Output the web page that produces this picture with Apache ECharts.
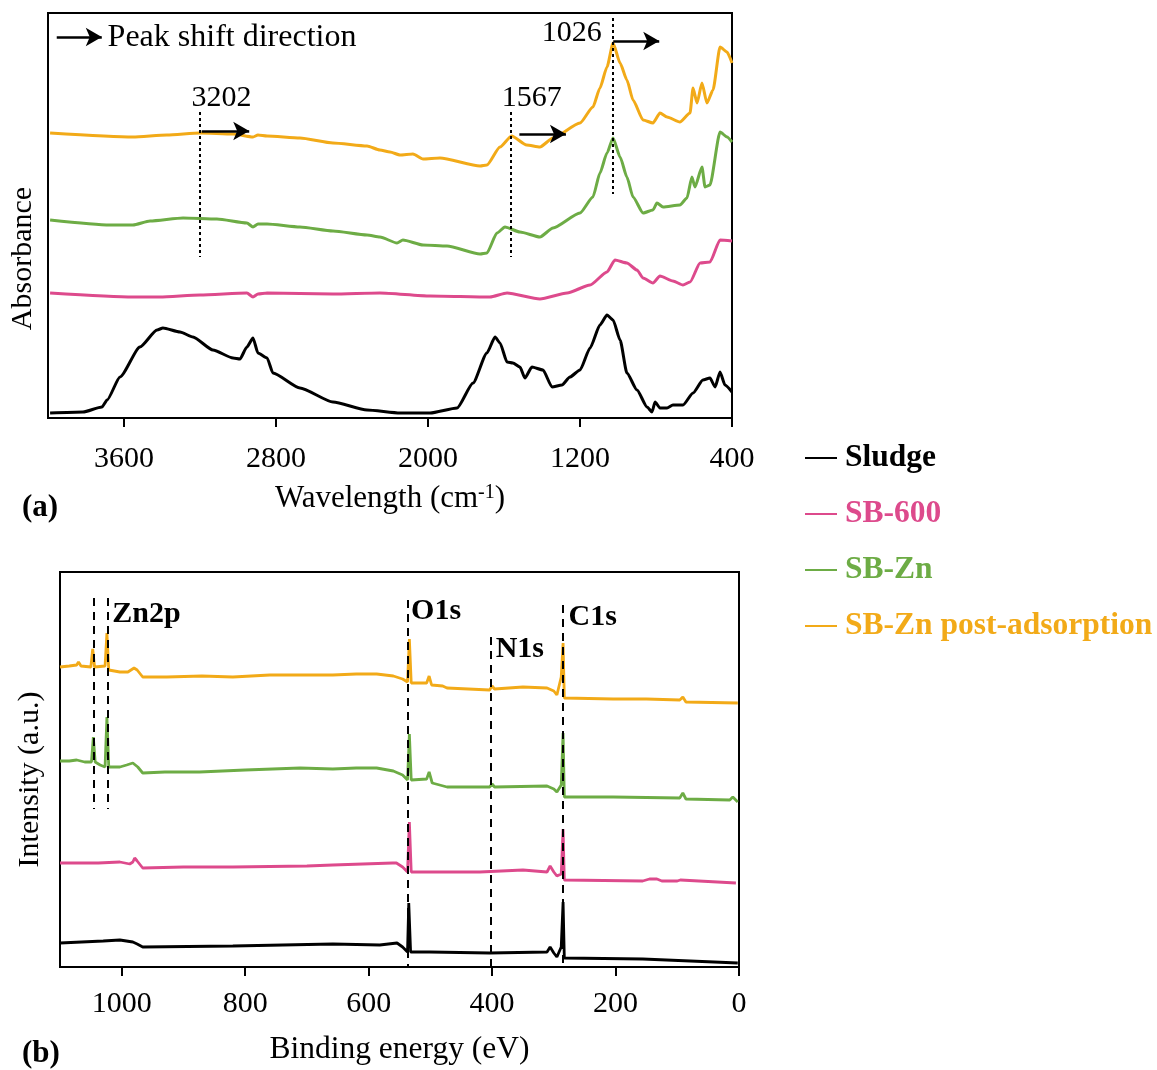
<!DOCTYPE html>
<html>
<head>
<meta charset="utf-8">
<script src="https://cdn.jsdelivr.net/npm/echarts@6/dist/echarts.min.js"></script>
<style>
html,body{margin:0;padding:0;background:#fff;}
#chart{width:1157px;height:1070px;}
</style>
</head>
<body>
<div id="chart"></div>
<script>
// ---------- DATA ----------
const seriesNames = ['Sludge', 'SB-600', 'SB-Zn', 'SB-Zn post-adsorption'];

// FTIR (panel a): [wavenumber cm-1, absorbance (a.u., offset stacked)]
const ftirSludge = [[3989,5],[3816,6],[3716,11],[3689,18],[3621,41],[3516,71],[3426,88],[3395,90],[3305,86],[3237,81],[3132,68],[3026,60],[2990,59],[2953,71],[2921,80],[2895,65],[2847,60],[2816,45],[2674,30],[2500,16],[2321,8],[2147,5],[1989,5],[1847,10],[1763,35],[1690,65],[1647,81],[1621,75],[1584,56],[1553,55],[1516,51],[1490,40],[1453,51],[1395,48],[1347,31],[1295,33],[1253,41],[1200,48],[1147,70],[1095,93],[1058,103],[1026,98],[989,78],[953,45],[900,28],[847,11],[821,6],[805,16],[779,10],[742,10],[711,13],[658,13],[605,25],[553,38],[516,40],[489,31],[463,46],[437,33],[400,26]];
const ftirSB600 = [[3989,125],[3553,121],[3411,121],[3200,123],[2953,125],[2921,121],[2895,124],[2847,125],[2500,124],[2253,125],[1989,122],[1674,121],[1584,125],[1411,119],[1268,125],[1147,133],[1058,146],[1016,158],[953,155],[900,148],[868,140],[816,135],[779,142],[711,137],[658,133],[621,136],[568,155],[516,156],[463,178],[400,177]];
const ftirSBZn = [[3989,198],[3674,193],[3553,193],[3463,197],[3289,200],[3111,199],[2953,195],[2921,191],[2895,194],[2847,194],[2674,191],[2500,187],[2321,183],[2253,181],[2163,175],[2132,178],[2026,173],[1900,172],[1726,164],[1690,165],[1637,185],[1595,191],[1516,186],[1411,181],[1342,190],[1200,205],[1132,221],[1095,245],[1058,265],[1026,280],[989,261],[953,241],[921,221],[868,205],[816,208],[795,215],[763,211],[674,213],[637,220],[611,241],[595,231],[558,251],[542,231],[516,233],[463,286],[426,281],[400,276]];
const ftirSBZnPost = [[3989,285],[3553,281],[3374,283],[3200,285],[3026,284],[2921,281],[2895,283],[2847,282],[2674,280],[2500,275],[2321,272],[2253,268],[2200,266],[2147,263],[2079,264],[2026,259],[1937,260],[1726,252],[1690,253],[1621,271],[1560,282],[1481,273],[1411,271],[1342,280],[1200,295],[1132,311],[1095,330],[1058,351],[1026,375],[989,355],[953,338],[921,318],[868,298],[816,295],[779,305],[742,301],[674,296],[621,305],[605,330],[584,315],[558,335],[532,315],[500,328],[463,371],[426,366],[400,355]];

// XPS (panel b): [binding energy eV, intensity (a.u., offset stacked)]
const xpsSludge = [[1100,24],[1030,26],[1003,27],[982,25],[975,23],[966,20],[820,21],[658,23],[582,22],[554,24],[545,20],[537,15],[535,64],[532,15],[501,15],[404,14],[311,15],[306,20],[300,14],[295,10],[288,20],[285,65],[283,9],[156,8],[2,4]];
const xpsSB600 = [[1100,104],[1038,104],[1003,105],[987,103],[982,105],[979,109],[975,106],[966,99],[900,100],[820,100],[700,101],[658,102],[561,104],[555,104],[545,100],[537,95],[534,145],[531,95],[420,95],[350,97],[311,95],[306,101],[300,95],[295,91],[288,93],[285,138],[283,87],[156,86],[145,88],[133,88],[125,86],[100,86],[95,87],[5,84]];
const xpsSBZn = [[1100,206],[1085,206],[1073,207],[1060,205],[1049,205],[1046,230],[1043,205],[1035,202],[1027,200],[1024,250],[1021,200],[1003,200],[992,202],[982,204],[974,200],[966,194],[930,195],[874,195],[800,197],[711,199],[658,198],[620,199],[587,199],[560,196],[545,192],[537,187],[534,233],[531,187],[506,188],[502,195],[497,184],[473,180],[404,180],[400,183],[396,180],[311,181],[300,178],[295,175],[288,182],[285,234],[283,170],[204,170],[96,169],[91,174],[86,168],[15,167],[10,170],[2,165]];
const xpsSBZnPost = [[1100,300],[1085,301],[1073,302],[1070,305],[1066,301],[1050,300],[1047,318],[1044,300],[1027,301],[1024,334],[1021,297],[1003,295],[990,295],[980,299],[975,297],[966,290],[927,290],[870,291],[820,290],[760,292],[711,292],[658,292],[620,293],[587,293],[560,291],[545,288],[537,285],[534,328],[531,284],[506,284],[502,291],[498,282],[480,281],[473,279],[404,277],[400,281],[396,278],[350,280],[311,279],[300,276],[295,272],[288,290],[285,324],[283,269],[204,268],[150,268],[96,267],[91,270],[86,265],[2,264]];

// tick labels
const ftirTicks = [3600, 2800, 2000, 1200, 400];
const xpsTicks = [1000, 800, 600, 400, 200, 0];

// annotations: FTIR peak markers [wavenumber, top, bottom]
const ftirPeaks = [[3202, 306, 161], [1567, 306, 161], [1026, 400, 224]];
// FTIR shift arrows [from wn, to wn, level]
const ftirArrows = [[3954, 3717, 381], [3191, 2941, 287], [1519, 1274, 284], [1025, 783, 377]];
// FTIR peak labels [text, wn, level]
const ftirLabels = [['3202', 3087, 320], ['1567', 1454, 320], ['1026', 1244, 385]];
// XPS element lines [BE, top, bottom]
const xpsLines = [[1046, 369, 158], [1023, 369, 158], [536, 367, 0], [402, 330, 0], [286, 362, 0]];
// XPS element labels [text, BE, level]
const xpsLabels = [['Zn2p', 1016, 353], ['O1s', 532, 356], ['N1s', 395, 318], ['C1s', 277, 350]];

// ---------- STYLE ----------
const colors = ['#000000', '#DD4A8C', '#6DAC45', '#F2AA18'];
const FONT = '"Liberation Serif", "Times New Roman", serif';

const chart = echarts.init(document.getElementById('chart'), null, {renderer: 'canvas'});

const ftirData = [ftirSludge, ftirSB600, ftirSBZn, ftirSBZnPost];
const xpsData = [xpsSludge, xpsSB600, xpsSBZn, xpsSBZnPost];

const series = [];
seriesNames.forEach((n, i) => {
  series.push({
    name: n, type: 'line', xAxisIndex: 0, yAxisIndex: 0, data: ftirData[i],
    showSymbol: false, symbol: 'none', color: colors[i], smooth: 0.2, smoothMonotone: 'x',
    lineStyle: {width: 3, color: colors[i]}, z: 5 - i, animation: false
  });
});
seriesNames.forEach((n, i) => {
  series.push({
    name: n, type: 'line', xAxisIndex: 1, yAxisIndex: 1, data: xpsData[i],
    showSymbol: false, symbol: 'none', color: colors[i],
    lineStyle: {width: 2.8, color: colors[i]}, z: 5 - i, animation: false
  });
});

const labelStyle = {fontFamily: FONT, fontSize: 30, color: '#000'};

// FTIR annotation series
series.push({
  name: 'ftir-annot', type: 'line', xAxisIndex: 0, yAxisIndex: 0, data: [],
  animation: false, silent: true, z: 10,
  markLine: {
    silent: true, animation: false, symbol: ['none', 'none'],
    label: {show: false},
    lineStyle: {color: '#000', width: 2, type: [3, 3]},
    data: ftirPeaks.map(p => [{coord: [p[0], p[1]]}, {coord: [p[0], p[2]]}])
      .concat(ftirArrows.map(a => [
        {coord: [a[0], a[2]], symbol: 'none', lineStyle: {type: 'solid', width: 2.5, color: '#000'}},
        {coord: [a[1], a[2]], symbol: 'arrow', symbolSize: [14, 16]}
      ]))
  },
  markPoint: {
    silent: true, animation: false, symbol: 'rect', symbolSize: 1,
    itemStyle: {color: 'rgba(0,0,0,0)'},
    data: ftirLabels.map(l => ({name: l[0], coord: [l[1], l[2]],
      label: Object.assign({show: true, position: 'inside', formatter: '{b}'}, labelStyle)}))
      .concat([{name: 'Peak shift direction', coord: [3689, 380],
        label: Object.assign({show: true, position: 'right', distance: 0, formatter: '{b}'}, labelStyle, {fontSize: 32})}])
  }
});

// XPS annotation series
series.push({
  name: 'xps-annot', type: 'line', xAxisIndex: 1, yAxisIndex: 1, data: [],
  animation: false, silent: true, z: 10,
  markLine: {
    silent: true, animation: false, symbol: ['none', 'none'],
    label: {show: false},
    lineStyle: {color: '#000', width: 2, type: [8, 6]},
    data: xpsLines.map(p => [{coord: [p[0], p[1]]}, {coord: [p[0], p[2]]}])
  },
  markPoint: {
    silent: true, animation: false, symbol: 'rect', symbolSize: 1,
    itemStyle: {color: 'rgba(0,0,0,0)'},
    data: xpsLabels.map(l => ({name: l[0], coord: [l[1], l[2]],
      label: Object.assign({show: true, position: 'right', distance: 0, formatter: '{b}'}, labelStyle, {fontWeight: 'bold'})}))
  }
});

const plain = v => String(v);

const option = {
  backgroundColor: '#fff',
  animation: false,
  textStyle: {fontFamily: FONT},
  grid: [
    {left: 48, top: 13, width: 684, height: 405, show: true, borderColor: '#000', borderWidth: 2, containLabel: false},
    {left: 60, top: 572, width: 679, height: 395, show: true, borderColor: '#000', borderWidth: 2, containLabel: false}
  ],
  legend: {
    orient: 'vertical', left: 800, top: 437,
    icon: 'rect', itemWidth: 32, itemHeight: 2, itemGap: 24,
    selectedMode: false,
    textStyle: {fontFamily: FONT, fontSize: 31.5, fontWeight: 'bold', lineHeight: 31, padding: [0, 0, 0, 3]},
    data: seriesNames.map((n, i) => ({name: n, textStyle: {color: colors[i]}}))
  },
  xAxis: [
    {
      gridIndex: 0, type: 'value', inverse: true, min: 400, max: 4000,
      axisLine: {show: true, lineStyle: {color: '#000', width: 2}},
      axisTick: {show: true, inside: false, length: 9, lineStyle: {color: '#000', width: 2}, customValues: ftirTicks},
      axisLabel: {show: true, margin: 26, fontFamily: FONT, fontSize: 30, color: '#000', customValues: ftirTicks, formatter: plain},
      splitLine: {show: false},
      name: '{n|Wavelength (cm}{s|-1}{n|)}', nameLocation: 'middle', nameGap: 65,
      nameTextStyle: {color: '#000', rich: {
        n: {fontFamily: FONT, fontSize: 31, color: '#000'},
        s: {fontFamily: FONT, fontSize: 20, color: '#000', verticalAlign: 'top'}
      }}
    },
    {
      gridIndex: 1, type: 'value', inverse: true, min: 0, max: 1100,
      axisLine: {show: true, lineStyle: {color: '#000', width: 2}},
      axisTick: {show: true, inside: false, length: 9, lineStyle: {color: '#000', width: 2}, customValues: xpsTicks},
      axisLabel: {show: true, margin: 22, fontFamily: FONT, fontSize: 30, color: '#000', customValues: xpsTicks, formatter: plain},
      splitLine: {show: false},
      name: 'Binding energy (eV)', nameLocation: 'middle', nameGap: 67,
      nameTextStyle: {fontFamily: FONT, fontSize: 31.5, color: '#000'}
    }
  ],
  yAxis: [
    {
      gridIndex: 0, type: 'value', min: 0, max: 405,
      axisLine: {show: false}, axisTick: {show: false}, axisLabel: {show: false}, splitLine: {show: false},
      name: 'Absorbance', nameLocation: 'middle', nameGap: 10, nameRotate: 90,
      nameTextStyle: {fontFamily: FONT, fontSize: 30, color: '#000', padding: [0, 86, 0, 0]}
    },
    {
      gridIndex: 1, type: 'value', min: 0, max: 395,
      axisLine: {show: false}, axisTick: {show: false}, axisLabel: {show: false}, splitLine: {show: false},
      name: 'Intensity (a.u.)', nameLocation: 'middle', nameGap: 15, nameRotate: 90,
      nameTextStyle: {fontFamily: FONT, fontSize: 30, color: '#000', padding: [0, 20, 0, 0]}
    }
  ],
  graphic: [
    {type: 'text', left: 22, top: 492, style: {text: '(a)', fontFamily: FONT, fontSize: 31, fontWeight: 'bold', fill: '#000'}},
    {type: 'text', left: 22, top: 1038, style: {text: '(b)', fontFamily: FONT, fontSize: 31, fontWeight: 'bold', fill: '#000'}}
  ],
  series: series
};

chart.setOption(option);
</script>
</body>
</html>
